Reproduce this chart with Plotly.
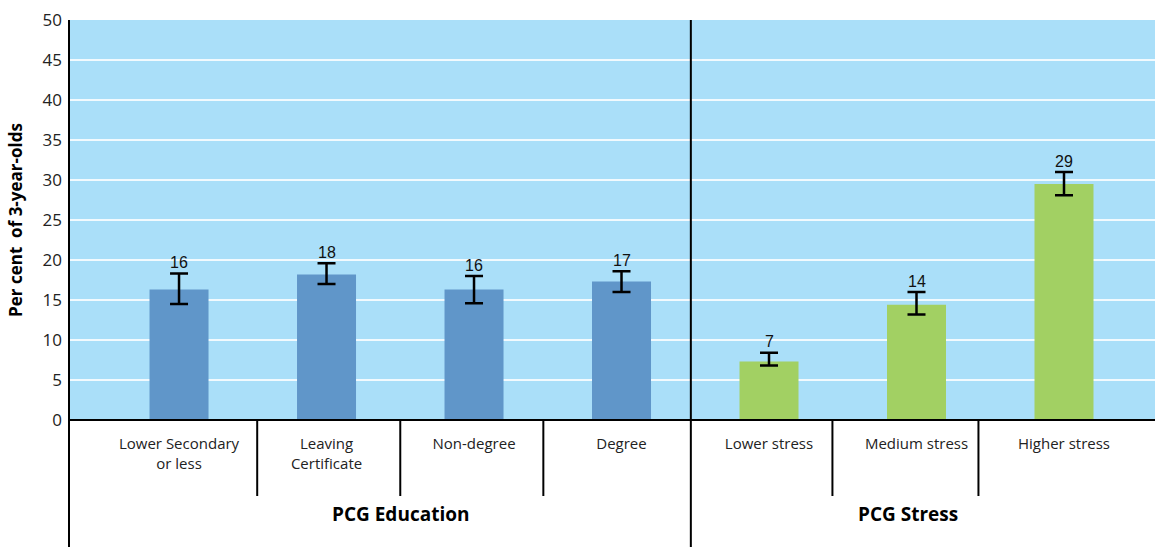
import plotly.graph_objects as go

# Data
categories = ["Lower Secondary<br>or less", "Leaving<br>Certificate", "Non-degree", "Degree",
              "Lower stress", "Medium stress", "Higher stress"]
values = [16.3, 18.2, 16.3, 17.3, 7.3, 14.4, 29.5]
err_plus = [2.0, 1.4, 1.7, 1.3, 1.1, 1.6, 1.5]
err_minus = [1.8, 1.2, 1.7, 1.3, 0.5, 1.2, 1.4]
labels = ["16", "18", "16", "17", "7", "14", "29"]
groups = ["PCG Education", "PCG Stress"]

blue = "#6096c9"
green = "#a2d063"
bg = "#aadff9"

pos = list(range(len(categories)))
edu = slice(0, 4)
stress = slice(4, 7)

fig = go.Figure()
for sl, color in [(edu, blue), (stress, green)]:
    fig.add_trace(
        go.Bar(
            x=pos[sl],
            y=values[sl],
            width=0.4,
            marker_color=color,
            marker_line_width=0,
            error_y=dict(
                type="data",
                symmetric=False,
                array=err_plus[sl],
                arrayminus=err_minus[sl],
                color="black",
                thickness=2.5,
                width=9,
            ),
            showlegend=False,
        )
    )

# value labels above the error bars
for x, v, e, t in zip(pos, values, err_plus, labels):
    fig.add_annotation(
        x=x, y=v + e, text=t, showarrow=False, yshift=11,
        font=dict(family="Liberation Sans Narrow, Liberation Sans", size=16, color="#111"),
    )

# group labels
for x, t in zip([1.5, 4.94], groups):
    fig.add_annotation(
        x=x, y=-0.235, yref="paper", yanchor="middle", text="<b>%s</b>" % t, showarrow=False,
        font=dict(family="Open Sans", size=19, color="black"),
    )

# structural lines below / across the plot
line = dict(color="black", width=2)
shapes = []
for x in [0.53, 1.5, 2.47, 4.43, 5.42]:
    shapes.append(dict(type="line", xref="x", yref="paper", x0=x, x1=x, y0=0, y1=-0.19, line=line))
shapes.append(dict(type="line", xref="x", yref="paper", x0=3.47, x1=3.47, y0=1, y1=-0.33, line=line))
shapes.append(dict(type="line", xref="paper", yref="paper", x0=0, x1=0, y0=1, y1=-0.33, line=line))
shapes.append(dict(type="line", xref="paper", yref="paper", x0=0, x1=1, y0=0, y1=0, line=line))

fig.update_layout(
    width=1155,
    height=547,
    margin=dict(l=69, r=0, t=20, b=127),
    paper_bgcolor="white",
    plot_bgcolor=bg,
    shapes=shapes,
    font=dict(family="Open Sans", color="#222"),
    xaxis=dict(
        range=[-0.746, 6.617],
        tickvals=pos,
        ticktext=categories,
        ticks="",
        showgrid=False,
        zeroline=False,
        tickfont=dict(family="Open Sans", size=15, color="#222"),
        ticklabelstandoff=13,
    ),
    yaxis=dict(
        range=[0, 50],
        dtick=5,
        gridcolor="rgba(255,255,255,0.85)",
        gridwidth=1.5,
        zeroline=False,
        showline=False,
        ticks="",
        ticklabelstandoff=6,
        tickfont=dict(family="Open Sans", size=17, color="#222"),
        title=dict(text="<b>Per cent  of 3-year-olds</b>",
                   font=dict(family="Open Sans", size=17, color="black"), standoff=15),
    ),
)

fig.write_html(
    "out.html",
    config={"displayModeBar": False},
    post_script="document.body.style.margin='0';document.body.style.overflow='hidden';",
)
